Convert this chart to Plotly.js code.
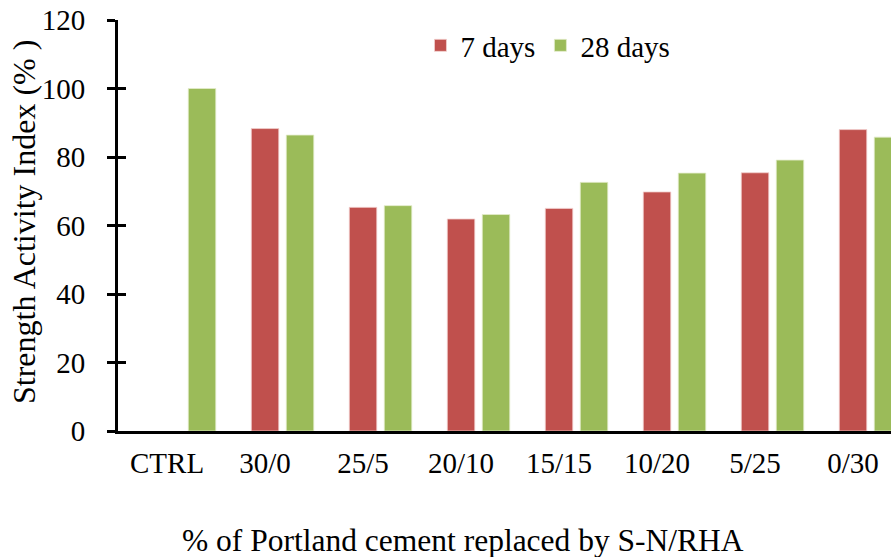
<!DOCTYPE html>
<html>
<head>
<meta charset="utf-8">
<script src="https://cdn.plot.ly/plotly-3.0.1.min.js"></script>
<style>
html,body{margin:0;padding:0;overflow:hidden;background:#fff;}
#chart{width:891px;height:557px;}
</style>
</head>
<body>
<div id="chart"></div>
<script>
const categories = ["CTRL","30/0","25/5","20/10","15/15","10/20","5/25","0/30"];
const days7 = [null, 88.3, 65.3, 61.9, 65.0, 69.8, 75.4, 88.0];
const days28 = [100, 86.4, 65.8, 63.2, 72.6, 75.3, 79.1, 85.8];
const yTicks = [0,20,40,60,80,100,120];
const xTitle = "% of Portland cement replaced by S-N/RHA";
const yTitle = "Strength Activity Index (% )";

const FONT = "Liberation Serif, Times New Roman, serif";
const XRANGE = [-0.679, 7.209];
const LABEL_OFFSET = -0.1786; // labels sit under the 7-day bar, as in the reference

const traces = [
  {type:"bar", name:"7 days", x:categories, y:days7, marker:{color:"#C0504D", line:{color:"#f3d0cf", width:0.8}}, hoverinfo:"skip"},
  {type:"bar", name:"28 days", x:categories, y:days28, marker:{color:"#9BBB59", line:{color:"#e3eccc", width:0.8}}, hoverinfo:"skip"},
  {type:"scatter", mode:"markers", x:[0], y:[null], xaxis:"x2", yaxis:"y2", showlegend:false, hoverinfo:"skip"}
];

const layout = {
  width:891, height:557,
  margin:{l:118, r:0, t:20, b:126, pad:0},
  paper_bgcolor:"#fff", plot_bgcolor:"#fff",
  font:{family:FONT, color:"#000", size:29},
  barmode:"group", bargap:0.286, bargroupgap:0.214,
  showlegend:true,
  legend:{orientation:"h", x:0.3913, y:1.0, xanchor:"left", yanchor:"top", font:{size:29, family:FONT}, bgcolor:"rgba(0,0,0,0)", traceorder:"normal"},
  xaxis:{
    type:"category", range:XRANGE,
    showline:true, linecolor:"#000", linewidth:3,
    ticks:"", showgrid:false, zeroline:false,
    showticklabels:false
  },
  xaxis2:{
    overlaying:"x", type:"linear", range:XRANGE, side:"bottom", anchor:"y",
    tickvals:categories.map((c,i)=>i+LABEL_OFFSET), ticktext:categories,
    ticks:"", showline:false, showgrid:false, zeroline:false,
    tickfont:{size:29, family:FONT}, ticklabelstandoff:12
  },
  yaxis:{
    range:[0,120], tickvals:yTicks, ticktext:yTicks.map(String),
    showline:true, linecolor:"#000", linewidth:3,
    ticks:"outside", ticklen:8, tickwidth:3, tickcolor:"#000",
    showgrid:false, zeroline:false,
    tickfont:{size:29, family:FONT},
    ticklabelstandoff:16
  },
  yaxis2:{
    overlaying:"y", side:"left", range:[0,120], tickvals:yTicks,
    ticks:"inside", ticklen:8, tickwidth:3, tickcolor:"#000",
    showticklabels:false, showline:false, showgrid:false, zeroline:false
  },
  annotations:[{
    text:xTitle, xref:"paper", yref:"paper", x:0.4463, y:-0.2676,
    xanchor:"center", yanchor:"middle", showarrow:false,
    font:{size:31.5, family:FONT, color:"#000"}
  },{
    text:yTitle, xref:"paper", yref:"paper", x:-0.1216, y:0.5085,
    xanchor:"center", yanchor:"middle", textangle:-90, showarrow:false,
    font:{size:32, family:FONT, color:"#000"}
  }]
};

Plotly.newPlot("chart", traces, layout, {displayModeBar:false, staticPlot:true});
</script>
</body>
</html>
